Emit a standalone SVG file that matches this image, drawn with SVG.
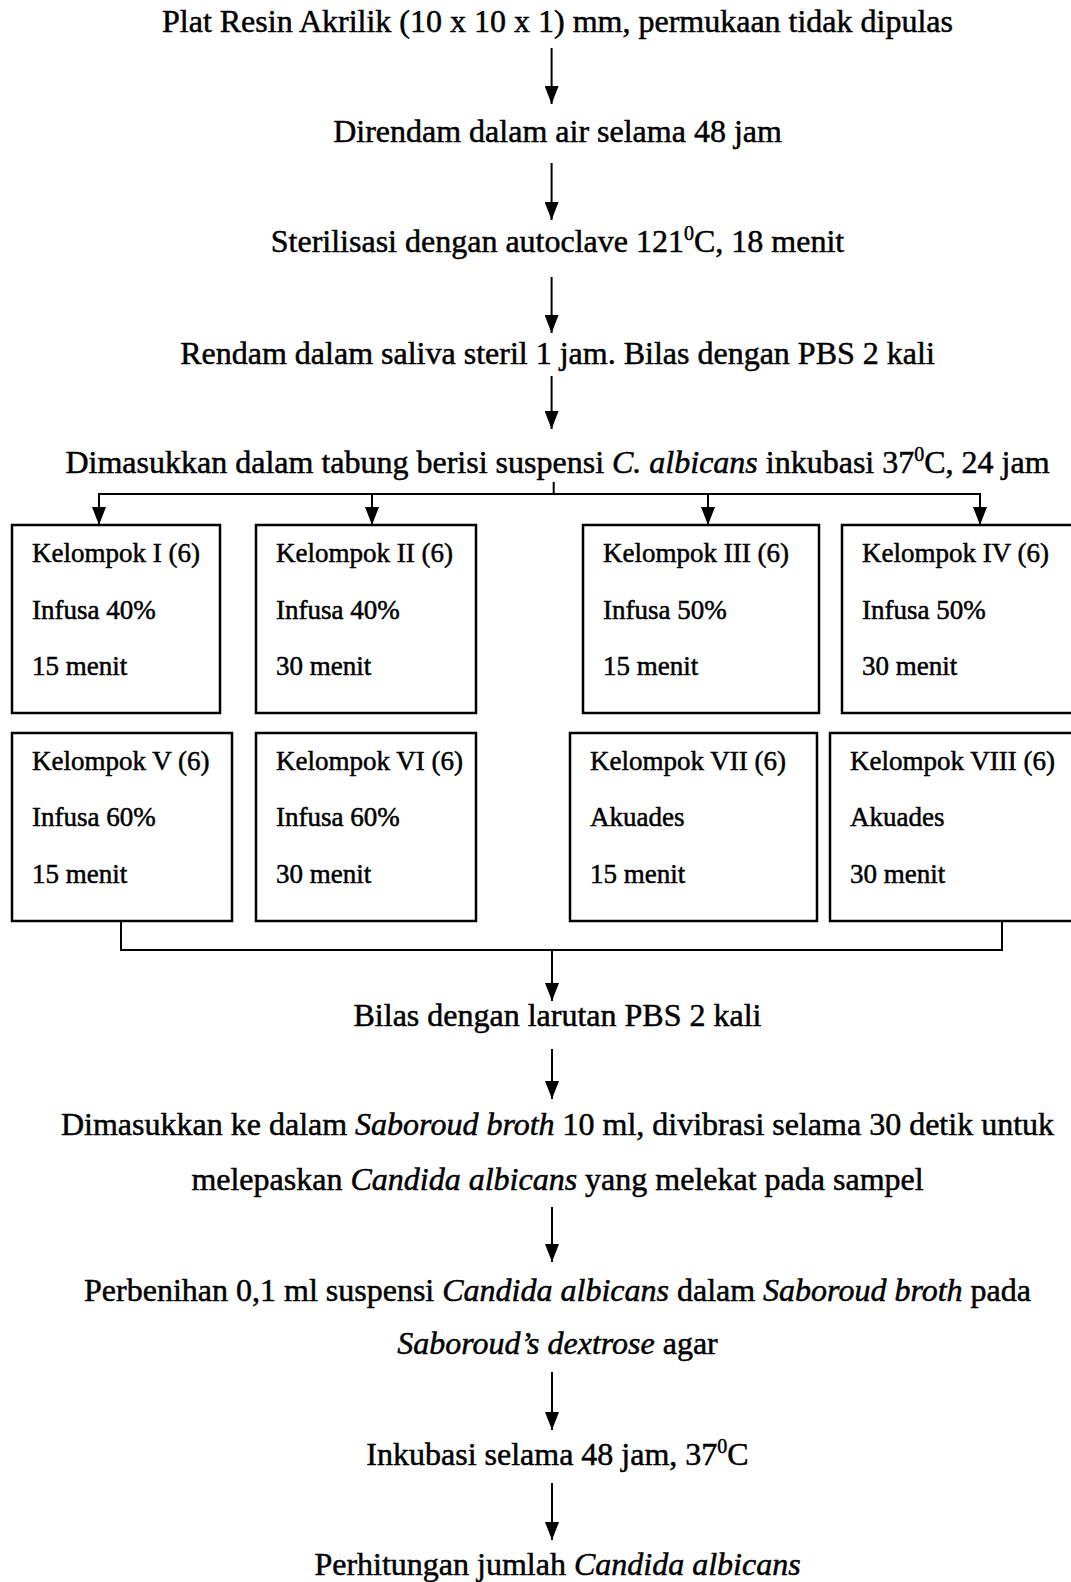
<svg xmlns="http://www.w3.org/2000/svg" width="1071" height="1582" viewBox="0 0 1071 1582">
<style>
text{font-family:"Liberation Serif","Times New Roman",serif;fill:#000;stroke:#000;stroke-width:0.5}
.m{font-size:32px;text-anchor:middle}
.b{font-size:27px}
.i{font-style:italic}
.sup{font-size:20px}
.box{fill:#fff;stroke:#000;stroke-width:2.5}
.c{fill:none;stroke:#000;stroke-width:2}
</style>
<defs>
<marker id="ah" markerUnits="userSpaceOnUse" markerWidth="18" markerHeight="14" refX="18" refY="7" orient="auto">
<path d="M0,0 L18,7 L0,14 z" fill="#000"/>
</marker>
</defs>
<rect width="1071" height="1582" fill="#fff"/>
<g id="connectors">
<path class="c" d="M551.6,48 V104" marker-end="url(#ah)"/>
<path class="c" d="M551.6,163 V220" marker-end="url(#ah)"/>
<path class="c" d="M551.6,277 V333" marker-end="url(#ah)"/>
<path class="c" d="M551.6,376 V429" marker-end="url(#ah)"/>
<path class="c" d="M553.7,482 V494 M98,494 H981"/>
<path class="c" d="M99,494 V525" marker-end="url(#ah)"/>
<path class="c" d="M372,494 V525" marker-end="url(#ah)"/>
<path class="c" d="M708,494 V525" marker-end="url(#ah)"/>
<path class="c" d="M980,494 V525" marker-end="url(#ah)"/>
<path class="c" d="M121,921 V950 H1002 V921"/>
<path class="c" d="M552,950 V1001" marker-end="url(#ah)"/>
<path class="c" d="M552,1049 V1099" marker-end="url(#ah)"/>
<path class="c" d="M552,1207 V1262" marker-end="url(#ah)"/>
<path class="c" d="M552,1372 V1430" marker-end="url(#ah)"/>
<path class="c" d="M552,1483 V1540" marker-end="url(#ah)"/>
</g>
<g id="n1"><text class="m" x="557.5" y="32">Plat Resin Akrilik (10 x 10 x 1) mm, permukaan tidak dipulas</text></g>
<g id="n2"><text class="m" x="557.5" y="142">Direndam dalam air selama 48 jam</text></g>
<g id="n3"><text class="m" x="557.5" y="252">Sterilisasi dengan autoclave 121<tspan class="sup" dy="-12">0</tspan><tspan dy="12">C, 18 menit</tspan></text></g>
<g id="n4"><text class="m" x="557.5" y="364">Rendam dalam saliva steril 1 jam. Bilas dengan PBS 2 kali</text></g>
<g id="n5"><text class="m" x="557.5" y="473">Dimasukkan dalam tabung berisi suspensi <tspan class="i">C. albicans</tspan> inkubasi 37<tspan class="sup" dy="-12">0</tspan><tspan dy="12">C, 24 jam</tspan></text></g>
<g id="k1"><rect class="box" x="12" y="525" width="208" height="188"/>
<text class="b" x="32" y="562">Kelompok I (6)</text><text class="b" x="32" y="619">Infusa 40%</text><text class="b" x="32" y="675">15 menit</text></g>
<g id="k2"><rect class="box" x="256" y="525" width="220" height="188"/>
<text class="b" x="276" y="562">Kelompok II (6)</text><text class="b" x="276" y="619">Infusa 40%</text><text class="b" x="276" y="675">30 menit</text></g>
<g id="k3"><rect class="box" x="583" y="525" width="236" height="188"/>
<text class="b" x="603" y="562">Kelompok III (6)</text><text class="b" x="603" y="619">Infusa 50%</text><text class="b" x="603" y="675">15 menit</text></g>
<g id="k4"><rect class="box" x="842" y="525" width="250" height="188"/>
<text class="b" x="862" y="562">Kelompok IV (6)</text><text class="b" x="862" y="619">Infusa 50%</text><text class="b" x="862" y="675">30 menit</text></g>
<g id="k5"><rect class="box" x="12" y="733" width="220" height="188"/>
<text class="b" x="32" y="770">Kelompok V (6)</text><text class="b" x="32" y="826">Infusa 60%</text><text class="b" x="32" y="883">15 menit</text></g>
<g id="k6"><rect class="box" x="256" y="733" width="220" height="188"/>
<text class="b" x="276" y="770">Kelompok VI (6)</text><text class="b" x="276" y="826">Infusa 60%</text><text class="b" x="276" y="883">30 menit</text></g>
<g id="k7"><rect class="box" x="570" y="733" width="247" height="188"/>
<text class="b" x="590" y="770">Kelompok VII (6)</text><text class="b" x="590" y="826">Akuades</text><text class="b" x="590" y="883">15 menit</text></g>
<g id="k8"><rect class="box" x="830" y="733" width="260" height="188"/>
<text class="b" x="850" y="770">Kelompok VIII (6)</text><text class="b" x="850" y="826">Akuades</text><text class="b" x="850" y="883">30 menit</text></g>
<g id="n6"><text class="m" x="557.5" y="1026">Bilas dengan larutan PBS 2 kali</text></g>
<g id="n7"><text class="m" x="557.5" y="1135">Dimasukkan ke dalam <tspan class="i">Saboroud broth</tspan> 10 ml, divibrasi selama 30 detik untuk</text>
<text class="m" x="557.5" y="1190">melepaskan <tspan class="i">Candida albicans</tspan> yang melekat pada sampel</text></g>
<g id="n8"><text class="m" x="557.5" y="1301">Perbenihan 0,1 ml suspensi <tspan class="i">Candida albicans</tspan> dalam <tspan class="i">Saboroud broth</tspan> pada</text>
<text class="m" x="557.5" y="1354"><tspan class="i">Saboroud’s dextrose</tspan> agar</text></g>
<g id="n9"><text class="m" x="557.5" y="1465">Inkubasi selama 48 jam, 37<tspan class="sup" dy="-12">0</tspan><tspan dy="12">C</tspan></text></g>
<g id="n10"><text class="m" x="557.5" y="1575">Perhitungan jumlah <tspan class="i">Candida albicans</tspan></text></g>
</svg>
